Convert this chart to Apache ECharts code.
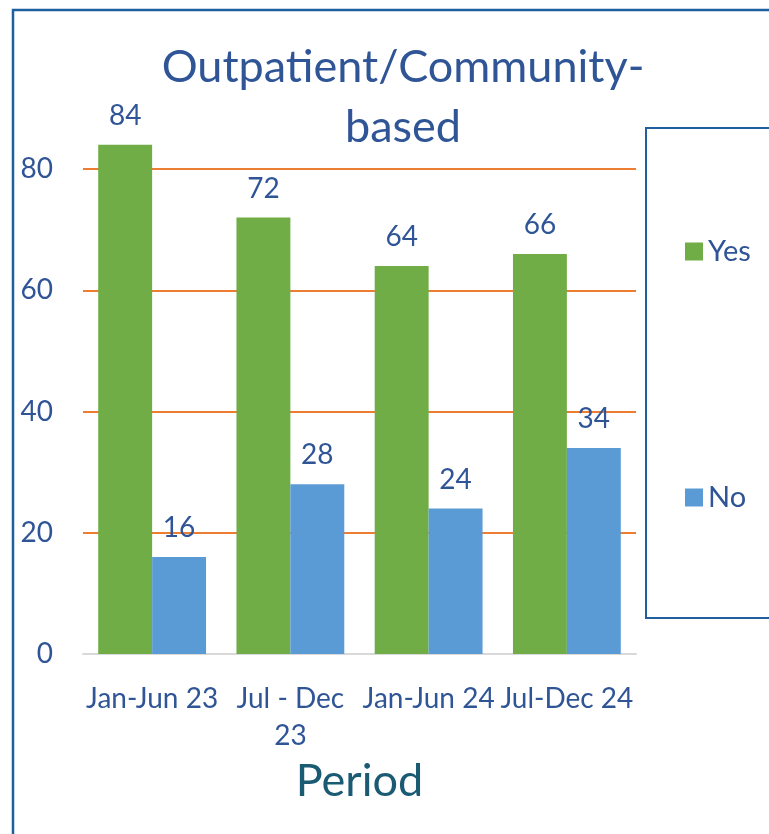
<!DOCTYPE html>
<html>
<head>
<meta charset="utf-8">
<title>Outpatient/Community-based</title>
<script src="https://cdn.jsdelivr.net/npm/echarts@6/dist/echarts.min.js"></script>
<style>
  html, body { margin: 0; padding: 0; background: #fff; }
  #myChart { width: 769px; height: 834px; }
</style>
</head>
<body>
<div id="myChart"></div>
<script>
// Chart data
var periods = ['Jan-Jun 23', 'Jul - Dec\n23', 'Jan-Jun 24', 'Jul-Dec 24'];
var yesValues = [84, 72, 64, 66];
var noValues = [16, 28, 24, 34];

var textBlue = '#2f5597';
var font = 'Lato';

// Initialize the ECharts instance based on the prepared DOM
var myChart = echarts.init(document.getElementById('myChart'));

var option = {
  backgroundColor: '#fff',
  textStyle: { fontFamily: font },
  title: {
    text: 'Outpatient/Community-\nbased',
    left: 398,
    textAlign: 'center',
    top: 32,
    textStyle: {
      fontFamily: font,
      fontSize: 45,
      fontWeight: 'normal',
      color: textBlue,
      lineHeight: 60
    }
  },
  // outer frame and legend box
  graphic: [
    {
      type: 'rect',
      shape: { x: 13, y: 10, width: 800, height: 900 },
      style: { fill: 'none', stroke: '#1f5fa0', lineWidth: 2.5 },
      silent: true
    },
    {
      type: 'rect',
      shape: { x: 646, y: 128, width: 200, height: 490 },
      style: { fill: 'none', stroke: '#1f5fa0', lineWidth: 2 },
      silent: true
    }
  ],
  legend: {
    orient: 'vertical',
    left: 680,
    top: 232,
    itemWidth: 18,
    itemHeight: 18,
    itemGap: 217,
    icon: 'rect',
    textStyle: { fontFamily: font, fontSize: 29, color: textBlue },
    data: ['Yes', 'No']
  },
  grid: {
    left: 83,
    right: 133,
    top: 169,
    bottom: 180
  },
  xAxis: {
    type: 'category',
    data: periods,
    name: 'Period',
    nameLocation: 'middle',
    nameGap: 97,
    nameTextStyle: { fontFamily: font, fontSize: 45, color: '#1b5a73' },
    axisLine: { lineStyle: { color: '#d9d9d9', width: 2 } },
    axisTick: { show: false },
    axisLabel: {
      interval: 0,
      margin: 26,
      fontFamily: font,
      fontSize: 28,
      lineHeight: 37,
      color: textBlue
    }
  },
  yAxis: {
    type: 'value',
    min: 0,
    max: 80,
    interval: 20,
    axisLine: { show: false },
    axisTick: { show: false },
    axisLabel: { margin: 30, fontFamily: font, fontSize: 28, color: textBlue },
    splitLine: { lineStyle: { color: '#ed7d31', width: 2 } }
  },
  series: [
    {
      name: 'Yes',
      type: 'bar',
      data: yesValues,
      clip: false,
      barGap: '0%',
      barCategoryGap: '22%',
      itemStyle: { color: '#70ad47' },
      label: {
        show: true,
        position: 'top',
        distance: 15,
        fontFamily: font,
        fontSize: 28,
        color: textBlue
      }
    },
    {
      name: 'No',
      type: 'bar',
      data: noValues,
      clip: false,
      itemStyle: { color: '#5b9bd5' },
      label: {
        show: true,
        position: 'top',
        distance: 15,
        fontFamily: font,
        fontSize: 28,
        color: textBlue
      }
    }
  ]
};

// Display the chart using the configuration items and data
myChart.setOption(option);
</script>
</body>
</html>
